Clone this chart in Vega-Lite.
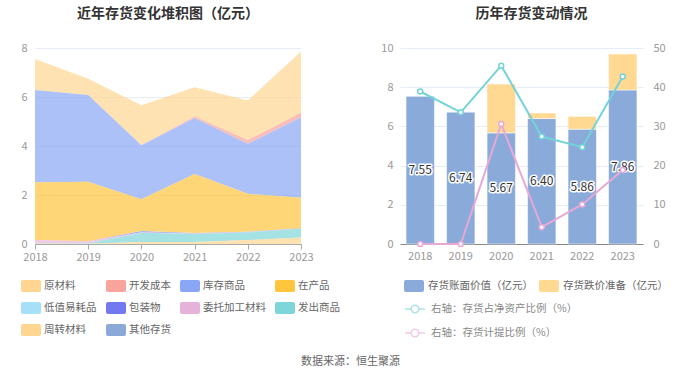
{
  "$schema": "https://vega.github.io/schema/vega-lite/v6.json",
  "background": "white",
  "padding": {"left": 20, "top": 7, "right": 0, "bottom": 0},
  "bounds": "flush",
  "spacing": 99,
  "title": {"text": "数据来源：恒生聚源", "orient": "bottom", "anchor": "start", "fontSize": 11, "fontWeight": "normal", "color": "#666", "offset": 16, "dx": 266, "frame": "group"},
  "datasets": {
    "stock": [
      {"year": "2018", "type": "原材料", "value": 1.26},
      {"year": "2019", "type": "原材料", "value": 0.66},
      {"year": "2020", "type": "原材料", "value": 1.63},
      {"year": "2021", "type": "原材料", "value": 1.20},
      {"year": "2022", "type": "原材料", "value": 1.62},
      {"year": "2023", "type": "原材料", "value": 2.49},
      {"year": "2018", "type": "开发成本", "value": 0},
      {"year": "2019", "type": "开发成本", "value": 0},
      {"year": "2020", "type": "开发成本", "value": 0},
      {"year": "2021", "type": "开发成本", "value": 0.06},
      {"year": "2022", "type": "开发成本", "value": 0.15},
      {"year": "2023", "type": "开发成本", "value": 0.2},
      {"year": "2018", "type": "库存商品", "value": 3.77},
      {"year": "2019", "type": "库存商品", "value": 3.54},
      {"year": "2020", "type": "库存商品", "value": 2.20},
      {"year": "2021", "type": "库存商品", "value": 2.28},
      {"year": "2022", "type": "库存商品", "value": 2.04},
      {"year": "2023", "type": "库存商品", "value": 3.28},
      {"year": "2018", "type": "在产品", "value": 2.36},
      {"year": "2019", "type": "在产品", "value": 2.43},
      {"year": "2020", "type": "在产品", "value": 1.30},
      {"year": "2021", "type": "在产品", "value": 2.41},
      {"year": "2022", "type": "在产品", "value": 1.55},
      {"year": "2023", "type": "在产品", "value": 1.25},
      {"year": "2018", "type": "低值易耗品", "value": 0},
      {"year": "2019", "type": "低值易耗品", "value": 0},
      {"year": "2020", "type": "低值易耗品", "value": 0.01},
      {"year": "2021", "type": "低值易耗品", "value": 0.01},
      {"year": "2022", "type": "低值易耗品", "value": 0.01},
      {"year": "2023", "type": "低值易耗品", "value": 0},
      {"year": "2018", "type": "包装物", "value": 0},
      {"year": "2019", "type": "包装物", "value": 0},
      {"year": "2020", "type": "包装物", "value": 0.04},
      {"year": "2021", "type": "包装物", "value": 0.01},
      {"year": "2022", "type": "包装物", "value": 0.01},
      {"year": "2023", "type": "包装物", "value": 0.01},
      {"year": "2018", "type": "委托加工材料", "value": 0.12},
      {"year": "2019", "type": "委托加工材料", "value": 0.08},
      {"year": "2020", "type": "委托加工材料", "value": 0.02},
      {"year": "2021", "type": "委托加工材料", "value": 0.02},
      {"year": "2022", "type": "委托加工材料", "value": 0.01},
      {"year": "2023", "type": "委托加工材料", "value": 0.01},
      {"year": "2018", "type": "发出商品", "value": 0.02},
      {"year": "2019", "type": "发出商品", "value": 0.02},
      {"year": "2020", "type": "发出商品", "value": 0.38},
      {"year": "2021", "type": "发出商品", "value": 0.33},
      {"year": "2022", "type": "发出商品", "value": 0.31},
      {"year": "2023", "type": "发出商品", "value": 0.35},
      {"year": "2018", "type": "周转材料", "value": 0.02},
      {"year": "2019", "type": "周转材料", "value": 0.01},
      {"year": "2020", "type": "周转材料", "value": 0.08},
      {"year": "2021", "type": "周转材料", "value": 0.08},
      {"year": "2022", "type": "周转材料", "value": 0.16},
      {"year": "2023", "type": "周转材料", "value": 0.27},
      {"year": "2018", "type": "其他存货", "value": 0},
      {"year": "2019", "type": "其他存货", "value": 0},
      {"year": "2020", "type": "其他存货", "value": 0},
      {"year": "2021", "type": "其他存货", "value": 0},
      {"year": "2022", "type": "其他存货", "value": 0},
      {"year": "2023", "type": "其他存货", "value": 0}
    ],
    "inv": [
      {"year": "2018", "存货账面价值（亿元）": 7.55, "存货跌价准备（亿元）": 0, "右轴：存货占净资产比例（%）": 38.9, "右轴：存货计提比例（%）": 0},
      {"year": "2019", "存货账面价值（亿元）": 6.74, "存货跌价准备（亿元）": 0, "右轴：存货占净资产比例（%）": 33.6, "右轴：存货计提比例（%）": 0},
      {"year": "2020", "存货账面价值（亿元）": 5.67, "存货跌价准备（亿元）": 2.49, "右轴：存货占净资产比例（%）": 45.5, "右轴：存货计提比例（%）": 30.6},
      {"year": "2021", "存货账面价值（亿元）": 6.40, "存货跌价准备（亿元）": 0.28, "右轴：存货占净资产比例（%）": 27.4, "右轴：存货计提比例（%）": 4.3},
      {"year": "2022", "存货账面价值（亿元）": 5.86, "存货跌价准备（亿元）": 0.65, "右轴：存货占净资产比例（%）": 24.7, "右轴：存货计提比例（%）": 10.1},
      {"year": "2023", "存货账面价值（亿元）": 7.86, "存货跌价准备（亿元）": 1.83, "右轴：存货占净资产比例（%）": 42.7, "右轴：存货计提比例（%）": 18.9}
    ]
  },
  "hconcat": [
    {
      "width": 266,
      "height": 196,
      "title": {"text": "近年存货变化堆积图（亿元）", "fontSize": 14, "fontWeight": "bold", "color": "#333", "offset": 21, "anchor": "middle"},
      "data": {"name": "stock"},
      "transform": [
        {"calculate": "indexof(['原材料','开发成本','库存商品','在产品','低值易耗品','包装物','委托加工材料','发出商品','周转材料','其他存货'], datum.type)", "as": "idx"}
      ],
      "mark": {"type": "area", "opacity": 0.7, "interpolate": "linear"},
      "encoding": {
        "x": {"field": "year", "type": "ordinal", "scale": {"type": "point", "padding": 0},
              "axis": {"labelAngle": 0, "ticks": true, "tickSize": 5, "labelPadding": 2, "grid": false, "domainColor": "#aaa", "tickColor": "#aaa"}},
        "y": {"field": "value", "type": "quantitative", "stack": "zero", "scale": {"domain": [0, 8], "nice": false},
              "axis": {"values": [0, 2, 4, 6, 8], "ticks": false, "domain": false, "labelPadding": 8}},
        "color": {"field": "type", "type": "nominal",
                  "scale": {"domain": ["原材料","开发成本","库存商品","在产品","低值易耗品","包装物","委托加工材料","发出商品","周转材料","其他存货"],
                            "range": ["#FFD592","#F8A39B","#8AA7F7","#FFC53D","#A6DFF8","#7378EE","#E5B3DA","#7FD6D8","#FFD592","#8AA9D9"]},
                  "legend": {"title": null, "orient": "none", "legendX": -14, "legendY": 228, "direction": "horizontal", "columns": 4, "gridAlign": "none",
                             "symbolType": "M-0.8,-0.6H0.8Q1,-0.6 1,-0.4V0.4Q1,0.6 0.8,0.6H-0.8Q-1,0.6 -1,0.4V-0.4Q-1,-0.6 -0.8,-0.6Z",
                             "symbolSize": 400, "symbolOpacity": 1, "symbolStrokeWidth": 0, "labelFontSize": 10.5, "labelColor": "#666",
                             "columnPadding": 9, "rowPadding": 6, "labelOffset": 3}},
        "order": {"field": "idx", "type": "quantitative", "sort": "descending"}
      }
    },
    {
      "width": 243,
      "height": 196,
      "title": {"text": "历年存货变动情况", "fontSize": 14, "fontWeight": "bold", "color": "#333", "offset": 21, "anchor": "middle", "dx": 10},
      "data": {"name": "inv"},
      "encoding": {
        "x": {"field": "year", "type": "ordinal", "scale": {"paddingInner": 0.3, "paddingOuter": 0.15},
              "axis": {"labelAngle": 0, "ticks": false, "labelPadding": 6, "grid": false, "domainColor": "#888"}}
      },
      "layer": [
        {
          "transform": [
            {"fold": ["存货账面价值（亿元）", "存货跌价准备（亿元）"], "as": ["series", "amount"]},
            {"calculate": "datum.series === '存货账面价值（亿元）' ? 0 : 1", "as": "ord"}
          ],
          "mark": {"type": "bar", "stroke": "white", "strokeWidth": 0.5},
          "encoding": {
            "y": {"field": "amount", "type": "quantitative", "stack": "zero", "scale": {"domain": [0, 10], "nice": false},
                  "axis": {"values": [0, 2, 4, 6, 8, 10], "ticks": false, "domain": false, "labelPadding": 7}},
            "fill": {"field": "series", "type": "nominal",
                     "scale": {"domain": ["存货账面价值（亿元）", "存货跌价准备（亿元）"], "range": ["#8AABDA", "#FFD892"]},
                     "legend": {"title": null, "orient": "none", "legendX": 369, "legendY": 228, "direction": "horizontal", "columns": 2, "gridAlign": "none",
                                "symbolType": "M-0.8,-0.6H0.8Q1,-0.6 1,-0.4V0.4Q1,0.6 0.8,0.6H-0.8Q-1,0.6 -1,0.4V-0.4Q-1,-0.6 -0.8,-0.6Z",
                                "symbolSize": 400, "symbolStrokeWidth": 0, "labelFontSize": 10.5, "labelColor": "#666",
                                "columnPadding": 6, "labelOffset": 4}},
            "order": {"field": "ord", "type": "quantitative"}
          }
        },
        {
          "transform": [{"calculate": "datum['存货账面价值（亿元）'] / 2", "as": "mid"}],
          "mark": {"type": "text", "fontSize": 12, "fill": "#333", "stroke": "white", "strokeWidth": 3, "strokeJoin": "round"},
          "encoding": {
            "y": {"field": "mid", "type": "quantitative", "scale": {"domain": [0, 10], "nice": false}, "axis": null},
            "text": {"field": "存货账面价值（亿元）", "type": "quantitative", "format": ".2f"}
          }
        },
        {
          "transform": [{"calculate": "datum['存货账面价值（亿元）'] / 2", "as": "mid"}],
          "mark": {"type": "text", "fontSize": 12, "fill": "#333"},
          "encoding": {
            "y": {"field": "mid", "type": "quantitative", "scale": {"domain": [0, 10], "nice": false}, "axis": null},
            "text": {"field": "存货账面价值（亿元）", "type": "quantitative", "format": ".2f"}
          }
        },
        {
          "transform": [{"fold": ["右轴：存货占净资产比例（%）", "右轴：存货计提比例（%）"], "as": ["series2", "pct"]}],
          "mark": {"type": "line", "strokeWidth": 2, "point": {"filled": false, "fill": "white", "size": 25, "strokeWidth": 1.5}},
          "encoding": {
            "y": {"field": "pct", "type": "quantitative", "scale": {"domain": [0, 50], "nice": false},
                  "axis": {"orient": "right", "values": [0, 10, 20, 30, 40, 50], "ticks": false, "domain": false, "grid": false, "labelPadding": 10}},
            "stroke": {"field": "series2", "type": "nominal",
                       "scale": {"domain": ["右轴：存货占净资产比例（%）", "右轴：存货计提比例（%）"], "range": ["#73D3D9", "#E8A8D6"]},
                       "legend": {"title": null, "orient": "none", "legendX": 369, "legendY": 250, "direction": "vertical",
                                  "symbolType": "M-1,0L-0.38,0M0.38,0L1,0M0.38,0A0.38,0.38,0,1,1,-0.38,0A0.38,0.38,0,1,1,0.38,0",
                                  "symbolSize": 400, "symbolStrokeWidth": 1.5, "symbolFillColor": "white", "symbolOpacity": 0.6,
                                  "labelFontSize": 10.5, "labelColor": "#888", "rowPadding": 6, "labelOffset": 5}}
          }
        }
      ],
      "resolve": {"scale": {"y": "independent"}}
    }
  ],
  "config": {
    "font": "Noto Sans CJK SC",
    "view": {"stroke": null},
    "axis": {"labelColor": "#999", "labelFontSize": 11, "gridColor": "#E6ECF6", "title": null},
    "title": {"font": "Noto Sans CJK SC"}
  }
}
